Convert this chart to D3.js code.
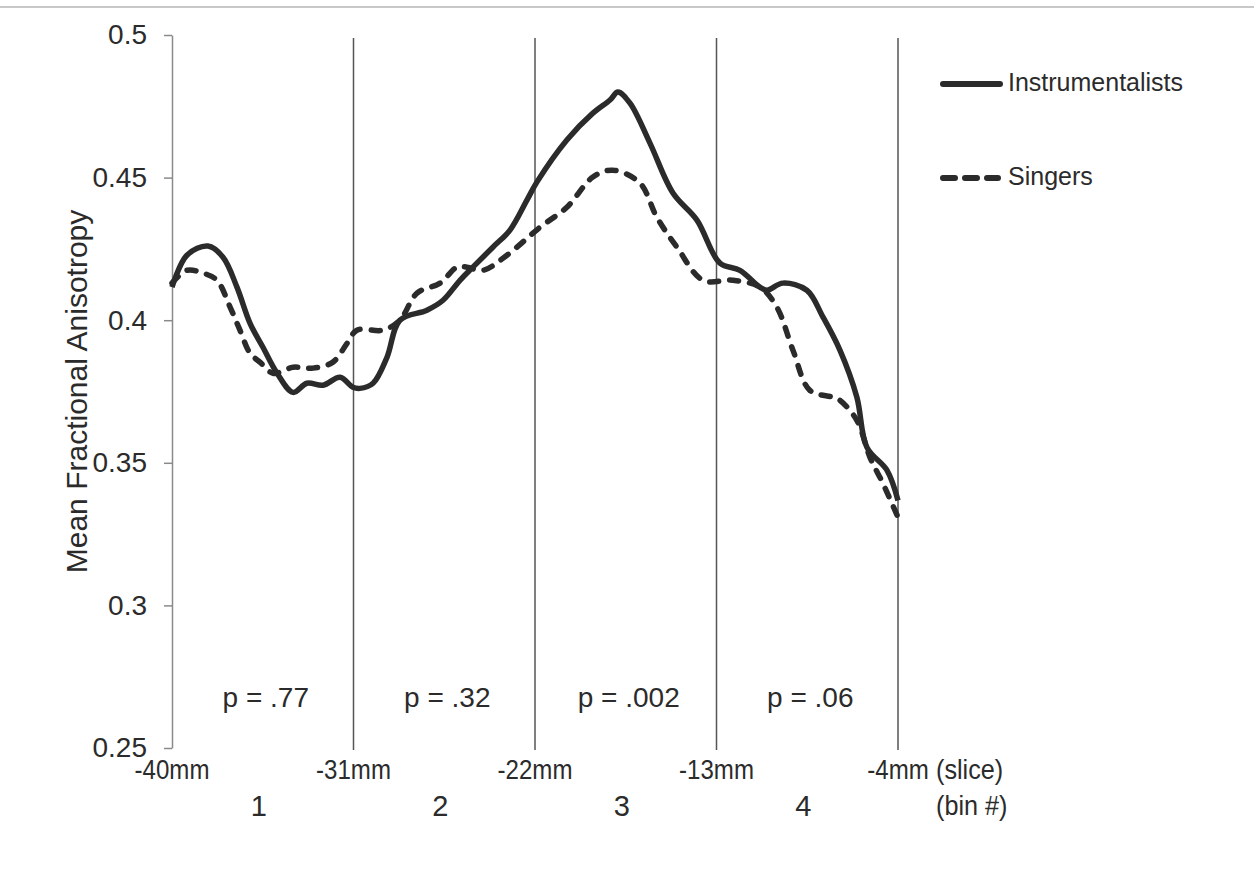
<!DOCTYPE html>
<html>
<head>
<meta charset="utf-8">
<script src="https://cdn.jsdelivr.net/npm/d3@7"></script>
<style>
  body { margin: 0; background: #fff; }
  svg { display: block; font-family: "Liberation Sans", Arial, sans-serif; }
</style>
</head>
<body>
<div class="visData"></div>
<script>
const w = 1254;
const h = 888;

// slice position (mm) and mean FA
const instSlice = [-40, -39.26, -38.22, -37.47, -36.78, -36.13, -35.49, -34.79, -34.0, -33.31, -32.51, -31.67, -31.03, -30.68, -30.03, -29.34, -28.7, -27.36, -26.56, -25.72, -25.08, -24.09, -23.24, -22.4, -21.9, -20.42, -19.13, -18.28, -17.89, -17.29, -16.3, -15.16, -13.97, -12.83, -11.84, -10.85, -10.5, -9.71, -8.52, -7.72, -6.88, -6.04, -5.54, -4.55, -4.0];
const instFA = [0.4116, 0.4228, 0.426, 0.4221, 0.4116, 0.3989, 0.3905, 0.3814, 0.3747, 0.3779, 0.3772, 0.38, 0.3765, 0.3761, 0.3779, 0.387, 0.4, 0.4035, 0.407, 0.414, 0.4186, 0.4256, 0.4316, 0.4421, 0.4485, 0.4632, 0.4726, 0.4772, 0.48, 0.4761, 0.4621, 0.4446, 0.4351, 0.42, 0.4175, 0.4116, 0.4105, 0.413, 0.4105, 0.4011, 0.3895, 0.373, 0.3554, 0.3474, 0.3368];

const singSlice = [-40, -39.26, -38.46, -37.77, -37.12, -36.63, -36.13, -35.64, -34.99, -34.0, -33.01, -32.02, -31.32, -30.83, -29.54, -28.7, -27.85, -26.71, -25.87, -25.37, -24.58, -23.39, -21.75, -20.42, -19.13, -18.14, -16.8, -15.96, -14.96, -13.67, -12.19, -10.85, -10.01, -9.21, -8.37, -7.23, -6.88, -6.04, -5.39, -4.75, -4.0];
const singFA = [0.413, 0.4175, 0.4165, 0.414, 0.4046, 0.3965, 0.3884, 0.3853, 0.3814, 0.3835, 0.3832, 0.3853, 0.3919, 0.3965, 0.3965, 0.4, 0.4095, 0.413, 0.4186, 0.4186, 0.4175, 0.4228, 0.4326, 0.4396, 0.4502, 0.4526, 0.4481, 0.4361, 0.4256, 0.414, 0.414, 0.4116, 0.4046, 0.3895, 0.3754, 0.373, 0.3719, 0.3649, 0.3519, 0.3428, 0.3309];

const yTicks = [0.25, 0.3, 0.35, 0.4, 0.45, 0.5];
const sliceTicks = [-40, -31, -22, -13, -4];
const binLabels = ["1", "2", "3", "4"];
const pLabels = ["p = .77", "p = .32", "p = .002", "p = .06"];
const seriesNames = ["Instrumentalists", "Singers"];

const ink = "#2b2b2b";

const svg = d3
  .select(".visData")
  .append("svg")
  .attr("width", w)
  .attr("height", h);

// faint rule along the top of the page
svg.append("line")
  .attr("x1", 0).attr("x2", w)
  .attr("y1", 7).attr("y2", 7)
  .attr("stroke", "#c8c8c8")
  .attr("stroke-width", 2);

const xScale = d3.scaleLinear().domain([-40, -4]).range([172, 898]);
const yScale = d3.scaleLinear().domain([0.25, 0.5]).range([748, 35]);

// y axis
const yAxis = d3.axisLeft(yScale)
  .tickValues(yTicks)
  .tickSize(8)
  .tickSizeOuter(0)
  .tickPadding(17)
  .tickFormat((d) => String(d));

const yG = svg.append("g")
  .attr("transform", `translate(${xScale(-40)},0)`)
  .call(yAxis);
yG.select(".domain").attr("stroke", "#8a8a8a").attr("stroke-width", 1.5);
yG.selectAll(".tick line").attr("stroke", "#8a8a8a").attr("stroke-width", 1.5);
yG.selectAll(".tick text")
  .attr("fill", ink)
  .style("font-size", "28px")
  .style("font-family", "'Liberation Sans', Arial, sans-serif");

// axis title
svg.append("text")
  .attr("transform", `translate(79, ${yScale(0.375)}) rotate(-90)`)
  .attr("text-anchor", "middle")
  .attr("dominant-baseline", "middle")
  .attr("fill", ink)
  .style("font-size", "30px")
  .text("Mean Fractional Anisotropy");

// bin boundary lines
svg.selectAll("line.bound")
  .data(sliceTicks.slice(1))
  .enter()
  .append("line")
  .attr("class", "bound")
  .attr("x1", (d) => xScale(d))
  .attr("x2", (d) => xScale(d))
  .attr("y1", yScale(0.5) + 3)
  .attr("y2", yScale(0.25) + 2)
  .attr("stroke", "#555")
  .attr("stroke-width", 1.5);

// slice labels (the original type is a little condensed)
svg.selectAll("text.slice")
  .data(sliceTicks)
  .enter()
  .append("text")
  .attr("class", "slice")
  .attr("transform", (d) => `translate(${xScale(d)},772) scale(0.86,1)`)
  .attr("text-anchor", "middle")
  .attr("dominant-baseline", "middle")
  .attr("fill", ink)
  .style("font-size", "28px")
  .text((d) => d + "mm");

svg.append("text")
  .attr("transform", `translate(${xScale(-4) + 38},772) scale(0.9,1)`)
  .attr("dominant-baseline", "middle")
  .attr("fill", ink)
  .style("font-size", "28px")
  .text("(slice)");

// bin numbers and p values, centred in each bin
const binMid = (i) => (xScale(sliceTicks[i]) + xScale(sliceTicks[i + 1])) / 2;

svg.selectAll("text.bin")
  .data(binLabels)
  .enter()
  .append("text")
  .attr("class", "bin")
  .attr("x", (d, i) => binMid(i) - 4)
  .attr("y", 808)
  .attr("text-anchor", "middle")
  .attr("dominant-baseline", "middle")
  .attr("fill", ink)
  .style("font-size", "29px")
  .text((d) => d);

svg.append("text")
  .attr("transform", `translate(${xScale(-4) + 38},808) scale(0.9,1)`)
  .attr("dominant-baseline", "middle")
  .attr("fill", ink)
  .style("font-size", "28px")
  .text("(bin #)");

svg.selectAll("text.pval")
  .data(pLabels)
  .enter()
  .append("text")
  .attr("class", "pval")
  .attr("x", (d, i) => binMid(i) + 3)
  .attr("y", 700)
  .attr("text-anchor", "middle")
  .attr("dominant-baseline", "middle")
  .attr("fill", ink)
  .style("font-size", "28px")
  .text((d) => d);

// the two curves
const line = d3.line()
  .x((d) => xScale(d[0]))
  .y((d) => yScale(d[1]))
  .curve(d3.curveCatmullRom.alpha(0.5));

svg.append("path")
  .datum(d3.zip(instSlice, instFA))
  .attr("d", line)
  .attr("fill", "none")
  .attr("stroke", ink)
  .attr("stroke-width", 5.5)
  .attr("stroke-linejoin", "round");

svg.append("path")
  .datum(d3.zip(singSlice, singFA))
  .attr("d", line)
  .attr("fill", "none")
  .attr("stroke", ink)
  .attr("stroke-width", 5.5)
  .attr("stroke-dasharray", "9,11")
  .attr("stroke-linecap", "round");

// legend
const legend = svg.append("g").attr("transform", "translate(940,0)");
const legendY = [84, 178];

legend.selectAll("line")
  .data(seriesNames)
  .enter()
  .append("line")
  .attr("x1", 3)
  .attr("x2", (d, i) => (i === 0 ? 60 : 58))
  .attr("y1", (d, i) => legendY[i])
  .attr("y2", (d, i) => legendY[i])
  .attr("stroke", ink)
  .attr("stroke-width", 6)
  .attr("stroke-linecap", "round")
  .attr("stroke-dasharray", (d, i) => (i === 0 ? null : "12,10"));

legend.selectAll("text")
  .data(seriesNames)
  .enter()
  .append("text")
  .attr("x", 68)
  .attr("y", (d, i) => legendY[i])
  .attr("dominant-baseline", "middle")
  .attr("fill", ink)
  .style("font-size", "25px")
  .text((d) => d);
</script>
</body>
</html>
